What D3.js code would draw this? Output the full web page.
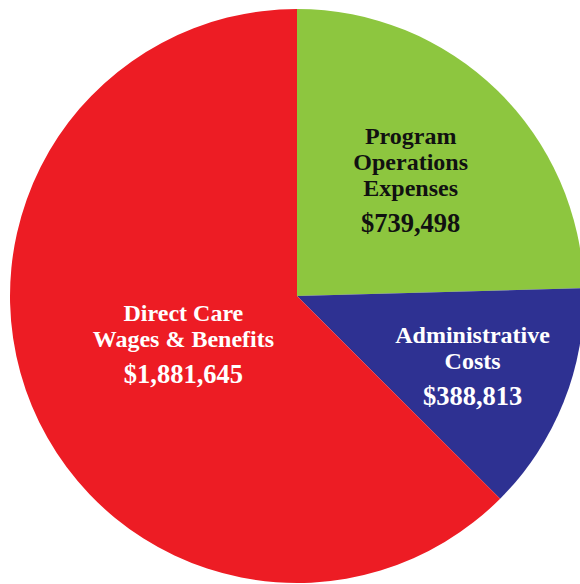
<!DOCTYPE html>
<html>
<head>
<meta charset="utf-8">
<script src="https://cdn.jsdelivr.net/npm/d3@7"></script>
<style>
  html, body { margin: 0; padding: 0; background: #ffffff; }
  svg { display: block; }
</style>
</head>
<body>
<svg id="chart" width="580" height="584"></svg>
<script>
// ---- Data ----
const categories = ["Program Operations Expenses", "Administrative Costs", "Direct Care Wages & Benefits"];
const labelLines = [["Program", "Operations", "Expenses"], ["Administrative", "Costs"], ["Direct Care", "Wages & Benefits"]];
const values = [739498, 388813, 1881645];

// ---- Style ----
const colors = ["#8dc63f", "#2e3192", "#ed1c24"];
const textColors = ["#111111", "#ffffff", "#ffffff"];
const labelRadius = [163, 189, 123];

const width = 580, height = 584;
const cx = 297, cy = 296, radius = 287;

const svg = d3.select("#chart");
const g = svg.append("g").attr("transform", `translate(${cx},${cy})`);

const pie = d3.pie().sort(null).value(d => d.value);
const data = categories.map((c, i) => ({ name: c, value: values[i], i }));
const arcs = pie(data);

const arc = d3.arc().innerRadius(0).outerRadius(radius);

g.selectAll("path.slice")
  .data(arcs)
  .join("path")
  .attr("class", "slice")
  .attr("d", arc)
  .attr("fill", d => colors[d.data.i]);

const fmt = d3.format("$,");
const fontSize = 24, valueFontSize = 26.5, lineH = 26, capH = 17, valueGap = 36;

arcs.forEach(a => {
  const i = a.data.i;
  const r = labelRadius[i];
  const c = d3.arc().innerRadius(r).outerRadius(r).centroid(a);
  const lines = labelLines[i];
  const H = capH + (lines.length - 1) * lineH + valueGap;
  const firstBase = c[1] - H / 2 + capH;
  const t = g.append("text")
    .attr("text-anchor", "middle")
    .attr("fill", textColors[i])
    .style("font-family", "'Liberation Serif', 'Times New Roman', serif")
    .style("font-weight", "bold")
    .style("font-size", fontSize + "px");
  lines.forEach((ln, k) => {
    t.append("tspan").attr("x", c[0]).attr("y", firstBase + k * lineH).text(ln);
  });
  t.append("tspan").attr("x", c[0]).attr("y", firstBase + (lines.length - 1) * lineH + valueGap)
    .style("font-size", valueFontSize + "px")
    .text(fmt(values[i]));
});
</script>
</body>
</html>
